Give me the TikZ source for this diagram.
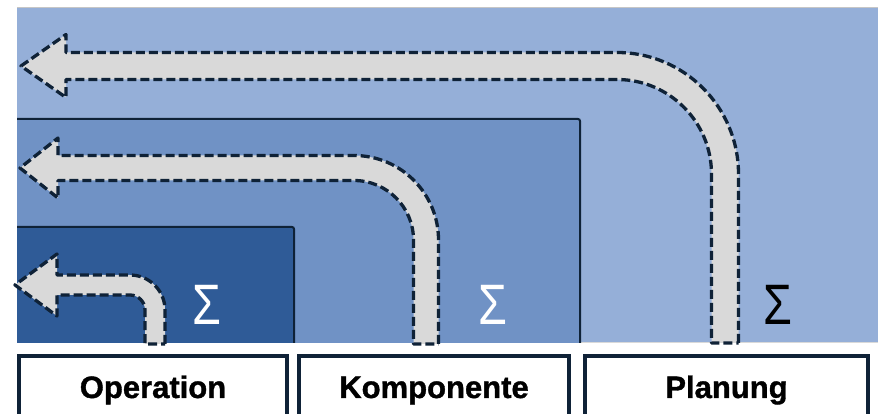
\documentclass[tikz,border=0pt]{standalone}
\usepackage{fontspec}
\setmainfont{Liberation Sans}
\newfontfamily\labelfont[FakeBold=1.2]{Liberation Sans Bold}
\definecolor{outerblue}{HTML}{95AFD8}
\definecolor{midblue}{HTML}{7092C5}
\definecolor{darkblue}{HTML}{2F5B97}
\definecolor{navy}{HTML}{0F2237}
\definecolor{arrowgray}{HTML}{D9D9D9}
\tikzset{
  flowline/.style={fill=arrowgray, draw=navy, line width=3.3pt, dash pattern=on 9pt off 4pt, line join=round},
  layeredge/.style={draw=navy, line width=2pt, rounded corners=2pt},
  labelbox/.style={draw=navy, fill=white, line width=4.5pt, minimum height=80pt, inner sep=0pt},
  labeltext/.style={font=\fontsize{31}{31}\labelfont, text=black, inner sep=0pt},
  sumsign/.style={font=\fontsize{57}{57}\selectfont, inner sep=0pt, anchor=base}
}
% block arrow: #1 shaft centre y, #2 half width, #3 riser centre x, #4 riser foot y,
% #5 bend radius, #6 tip x, #7 head base x, #8 head half height
\newcommand\flowarrow[8]{%
  \draw[flowline] ({#3+#2},#4) -- ({#3+#2},{#1-#5})
    arc[start angle=0, end angle=90, radius={(#5+#2)*1pt}]
    -- (#7,{#1+#2}) -- (#7,{#1+#8}) -- (#6,#1) -- (#7,{#1-#8}) -- (#7,{#1-#2})
    -- ({#3-#5},{#1-#2})
    arc[start angle=90, end angle=0, radius={(#5-#2)*1pt}]
    -- ({#3-#2},#4) -- cycle;}
\begin{document}
\begin{tikzpicture}[x=1pt, y=1pt]
  \useasboundingbox[fill=white] (0,0) rectangle (878,414);
  % nested layers
  \fill[outerblue] (17,71) rectangle (878,406);
  \draw[gray!45, line width=1pt] (17,406) -- (878,406);
  \draw[gray!30, line width=1pt] (17,71) -- (878,71);
  \fill[midblue] (17,71) rectangle (580,295);
  \draw[layeredge] (17,295) -- (580,295) -- (580,71);
  \fill[darkblue] (17,71) rectangle (294,187);
  \draw[layeredge] (17,187) -- (294,187) -- (294,71);
  % feedback arrows
  \flowarrow{348}{13.5}{725}{71}{108}{21}{66}{31.5}
  \flowarrow{246}{12.5}{426}{70}{72}{20}{58}{30}
  \flowarrow{129}{10}{155}{70}{25}{15}{57}{31}
  % aggregation signs
  \node[sumsign, text=white] (s1) at (207,89) {\scalebox{0.82}[1]{Σ}};
  \node[sumsign, text=white] (s2) at (493,89) {\scalebox{0.82}[1]{Σ}};
  \node[sumsign, text=black] (s3) at (778,89) {\scalebox{0.82}[1]{Σ}};
  % level boxes
  \node[labelbox, anchor=north, minimum width=268pt] (op) at (153,60) {};
  \node[labelbox, anchor=north, minimum width=270pt] (ko) at (434,60) {};
  \node[labelbox, anchor=north, minimum width=283pt] (pl) at (726.5,60) {};
  \node[labeltext, anchor=base] (opt) at ([yshift=-44pt]op.north) {Operation};
  \node[labeltext, anchor=base] (kot) at ([yshift=-44pt]ko.north) {Komponente};
  \node[labeltext, anchor=base] (plt) at ([yshift=-44pt]pl.north) {Planung};
\end{tikzpicture}
\end{document}
